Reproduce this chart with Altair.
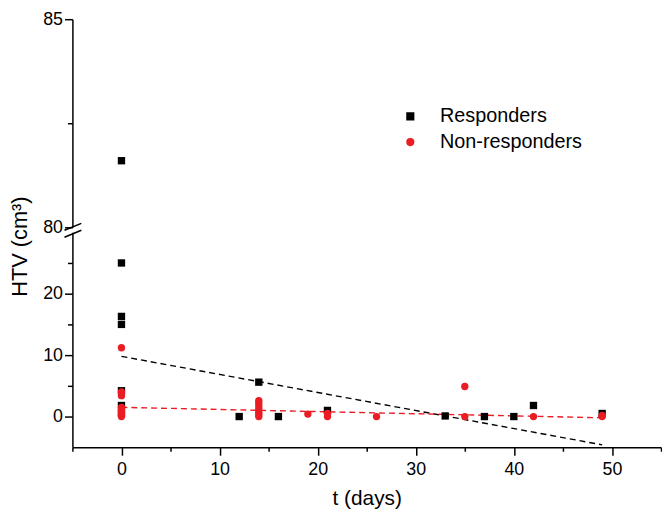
import altair as alt
import pandas as pd

# ---- data ----
resp_t = [0, 0, 0, 0, 0, 0, 0, 12, 14, 16, 21, 33, 37, 40, 42, 49]
resp_v = [81.6, 25.0, 16.3, 15.0, 4.2, 1.8, 0.6, 0.0, 5.6, 0.0, 1.0, 0.1, 0.0, 0.0, 1.8, 0.5]

nonresp_t = [0, 0, 0, 0, 0, 0, 0, 0, 14, 14, 14, 14, 14, 14, 14, 19, 21, 21, 26, 35, 35, 42, 49, 49]
nonresp_v = [11.2, 4.0, 3.4, 1.5, 1.0, 0.6, 0.2, 0.0, 2.6, 2.2, 1.7, 1.2, 0.7, 0.3, 0.0, 0.4,
             0.5, 0.0, 0.0, 4.9, 0.0, 0.0, 0.2, 0.0]

fit_t = [0, 49]
resp_fit = [9.8, -4.6]
nonresp_fit = [1.5, -0.2]

groups = ["Responders", "Non-responders"]
colors = ["#000000", "#ea1c24"]
shapes = ["square", "circle"]

x_ticks = [-5, 0, 5, 10, 15, 20, 25, 30, 35, 40, 45, 50, 55]
y_low_ticks = [0, 5, 10, 15, 20, 25]
y_up_ticks = [80, 82.5, 85]

pts = pd.DataFrame({
    "t": resp_t + nonresp_t,
    "v": resp_v + nonresp_v,
    "g": [groups[0]] * len(resp_t) + [groups[1]] * len(nonresp_t),
    "o": [0] * len(resp_t) + [1] * len(nonresp_t),
})
fits = pd.DataFrame({
    "t": fit_t + fit_t,
    "v": resp_fit + nonresp_fit,
    "g": [groups[0]] * 2 + [groups[1]] * 2,
})

W = 594
H_UP = 210
H_LOW = 217
FONT = "Liberation Sans"

color_scale = alt.Scale(domain=groups, range=colors)
shape_scale = alt.Scale(domain=groups, range=shapes)

xscale = alt.Scale(domain=[-5, 55], nice=False, zero=False)

major10 = "datum.value % 10 === 0"

x_axis = alt.Axis(
    values=x_ticks,
    labelExpr=f"{major10} ? datum.label : ''",
    tickSize={"condition": {"test": major10, "value": 8}, "value": 4},
    title="t (days)",
    titleFontSize=21,
    titleFontWeight="normal",
    titlePadding=10,
    labelPadding=5,
)

y_low_axis = alt.Axis(
    values=y_low_ticks,
    labelExpr=f"{major10} ? datum.label : ''",
    tickSize={"condition": {"test": major10, "value": 8}, "value": 5},
    title="HTV (cm³)",
    titleFontSize=22,
    titleFontWeight="normal",
    titleY=14,
    titlePadding=11,
    labelPadding=2,
)

y_up_axis = alt.Axis(
    values=y_up_ticks,
    labelExpr="datum.value === 82.5 ? '' : datum.label",
    tickSize={"condition": {"test": "datum.value === 82.5", "value": 5}, "value": 8},
    title=None,
    labelPadding=2,
)

legend = alt.Legend(
    title=None,
    orient="none",
    legendX=331,
    legendY=88,
    labelFontSize=20,
    labelFont=FONT,
    symbolSize=45,
    labelOffset=20,
    rowPadding=6,
    padding=0,
)

# lower panel
low_base = alt.Chart(pts).transform_filter("datum.v <= 30")
low_pts = low_base.mark_point(filled=True, opacity=1, size=55, clip=False).encode(
    x=alt.X("t:Q", scale=xscale, axis=x_axis),
    y=alt.Y("v:Q", scale=alt.Scale(domain=[-5, 30], nice=False, zero=False), axis=y_low_axis),
    color=alt.Color("g:N", scale=color_scale, legend=legend),
    shape=alt.Shape("g:N", scale=shape_scale, legend=legend),
    order=alt.Order("o:Q"),
)
low_fit = alt.Chart(fits).mark_line(strokeDash=[6, 4], strokeWidth=1.4).encode(
    x=alt.X("t:Q", scale=xscale),
    y=alt.Y("v:Q"),
    color=alt.Color("g:N", scale=color_scale, legend=legend),
    detail="g:N",
)
low_break = alt.Chart(pd.DataFrame({"a": [0]})).mark_rule(
    color="black", strokeWidth=1.5, clip=False
).encode(x=alt.value(-8), x2=alt.value(9), y=alt.value(5), y2=alt.value(-2))

lower = alt.layer(low_fit, low_pts, low_break).properties(width=W, height=H_LOW)

# upper panel
up_base = alt.Chart(pts).transform_filter("datum.v >= 80")
up_pts = up_base.mark_point(filled=True, opacity=1, size=55).encode(
    x=alt.X("t:Q", scale=xscale, axis=None),
    y=alt.Y("v:Q", scale=alt.Scale(domain=[80, 85], nice=False, zero=False), axis=y_up_axis),
    color=alt.Color("g:N", scale=color_scale, legend=legend),
    shape=alt.Shape("g:N", scale=shape_scale, legend=legend),
)
up_break = alt.Chart(pd.DataFrame({"a": [0]})).mark_rule(
    color="black", strokeWidth=1.5, clip=False
).encode(x=alt.value(-8), x2=alt.value(9), y=alt.value(H_UP + 3), y2=alt.value(H_UP - 4))

upper = alt.layer(up_pts, up_break).properties(width=W, height=H_UP)

chart = alt.vconcat(upper, lower, spacing=5, bounds="flush").resolve_scale(
    color="shared", shape="shared"
).properties(
    padding={"left": 0, "top": 0, "right": 0, "bottom": 0},
    background="white",
).configure_view(stroke=None).configure_axis(
    grid=False,
    domainColor="black",
    domainWidth=1.5,
    tickColor="black",
    tickWidth=1.5,
    labelColor="black",
    titleColor="black",
    labelFont=FONT,
    titleFont=FONT,
    labelFontSize=18,
)

chart.save("out.html", embed_options={"renderer": "svg", "actions": False})
